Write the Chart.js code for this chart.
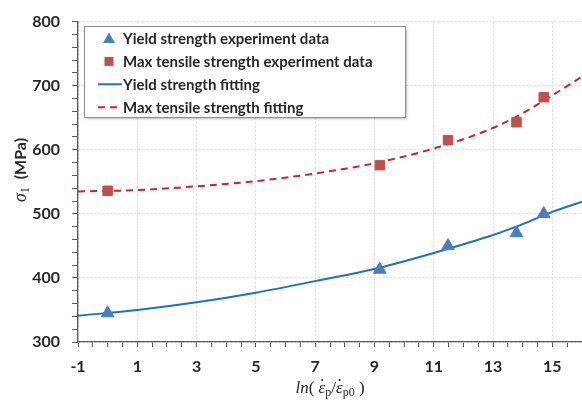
<!DOCTYPE html>
<html>
<head>
<meta charset="utf-8">
<script src="https://cdn.jsdelivr.net/npm/chart.js@4.4.1/dist/chart.umd.min.js"></script>
<style>
  html, body { margin: 0; padding: 0; background: #fff; overflow: hidden; }
  #wrap { position: absolute; left: 0; top: 0; width: 592px; height: 400px; }
</style>
</head>
<body>
<div id="wrap"><canvas id="chart"></canvas></div>
<script>
/* ── Data ─────────────────────────────────────────── */
const expX = [0, 9.18, 11.48, 13.79, 14.71];
const yieldExp = [345, 413, 450, 470, 500];
const maxExp = [536, 576, 615, 643, 682];

const fitX = [-1, 1, 3, 5, 7, 9, 11, 13, 14, 15, 16];
const yieldFit = [341, 350, 362, 377, 395, 414, 439, 467, 484, 503, 519];
const maxFit = [535, 537, 543, 551, 563, 579, 602, 634, 657, 685, 714];

const LABELS = [
  'Yield strength experiment data',
  'Max tensile strength experiment data',
  'Yield strength fitting',
  'Max tensile strength fitting',
];

const BLUE_PT = '#4a7ebb';
const RED_PT = '#c0504d';
const BLUE_LN = '#1f70c1';
const RED_LN = '#c9252b';
const TXT = '#262626';
const TICK_FONT = { family: 'Lato', size: 16, weight: 'bold' };

const pts = (xs, ys) => xs.map((x, i) => ({ x, y: ys[i] }));

/* ── Legend box drawn inside the plot ── */
const boxLegend = {
  id: 'boxLegend',
  afterDraw(chart) {
    const ctx = chart.ctx;
    const x0 = 84, y0 = 26, w = 321, h = 91;
    ctx.save();
    ctx.shadowColor = 'rgba(0,0,0,0.35)';
    ctx.shadowBlur = 3;
    ctx.shadowOffsetX = 1.5;
    ctx.shadowOffsetY = 1.5;
    ctx.fillStyle = '#fff';
    ctx.fillRect(x0, y0, w, h);
    ctx.restore();
    ctx.save();
    ctx.strokeStyle = '#8c8c8c';
    ctx.lineWidth = 1;
    ctx.strokeRect(x0 + 0.5, y0 + 0.5, w, h);

    ctx.font = 'bold 15px Lato';
    ctx.fillStyle = TXT;
    ctx.textBaseline = 'middle';
    LABELS.forEach((lab, i) => {
      const cy = 38.5 + i * 22.9;
      const sx = 109;
      if (i === 0) {
        ctx.fillStyle = BLUE_PT;
        ctx.beginPath();
        ctx.moveTo(sx, cy - 6);
        ctx.lineTo(sx + 6, cy + 4.5);
        ctx.lineTo(sx - 6, cy + 4.5);
        ctx.closePath();
        ctx.fill();
      } else if (i === 1) {
        ctx.fillStyle = RED_PT;
        ctx.fillRect(sx - 4.5, cy - 4.5, 9, 9);
      } else {
        ctx.strokeStyle = i === 2 ? BLUE_LN : RED_LN;
        ctx.lineWidth = 2;
        ctx.setLineDash(i === 3 ? [7, 5] : []);
        ctx.beginPath();
        ctx.moveTo(98, cy);
        ctx.lineTo(122, cy);
        ctx.stroke();
        ctx.setLineDash([]);
      }
      ctx.fillStyle = TXT;
      ctx.fillText(lab, 123, cy + 1);
    });
    ctx.restore();
  }
};

/* ── Axis titles with math-style glyphs ── */
function drawRuns(ctx, runs, x, y) {
  runs.forEach(r => {
    ctx.font = r.f;
    ctx.fillText(r.t, x, y + (r.dy || 0));
    const w = ctx.measureText(r.t).width;
    if (r.dot) {
      ctx.beginPath();
      ctx.arc(x + w * 0.55, y - 13, 1.1, 0, Math.PI * 2);
      ctx.fill();
    }
    x += w;
  });
}

function runsWidth(ctx, runs) {
  return runs.reduce((s, r) => { ctx.font = r.f; return s + ctx.measureText(r.t).width; }, 0);
}

const axisTitles = {
  id: 'axisTitles',
  afterDraw(chart) {
    const ctx = chart.ctx;
    const ca = chart.chartArea;
    ctx.save();
    ctx.fillStyle = TXT;
    ctx.textBaseline = 'alphabetic';

    const it = 'italic 17px "Liberation Serif"';
    const up = '17px "Liberation Serif"';
    const sub = '12px "Liberation Serif"';
    const xRuns = [
      { t: 'ln', f: it },
      { t: '( ', f: up },
      { t: 'ε', f: it, dot: true },
      { t: 'p', f: sub, dy: 3 },
      { t: '/', f: up },
      { t: 'ε', f: it, dot: true },
      { t: 'p0', f: sub, dy: 3 },
      { t: ' )', f: up },
    ];
    const xw = runsWidth(ctx, xRuns);
    drawRuns(ctx, xRuns, (ca.left + ca.right) / 2 - xw / 2, 393);

    const yRuns = [
      { t: 'σ', f: 'italic 18px "Liberation Serif"' },
      { t: '1', f: sub, dy: 3 },
      { t: '  (MPa)', f: 'bold 16px Lato' },
    ];
    const yw = runsWidth(ctx, yRuns);
    ctx.translate(26, 170);
    ctx.rotate(-Math.PI / 2);
    drawRuns(ctx, yRuns, -yw / 2, 0);
    ctx.restore();
  }
};

/* ── Chart ── */
const isOdd = v => { const r = Math.round(v * 2) / 2; return Number.isInteger(r) && Math.abs(r) % 2 === 1; };
const isHundred = v => Math.round(v) % 100 === 0;

new Chart(document.getElementById('chart'), {
  type: 'scatter',
  data: {
    datasets: [
      {
        label: LABELS[0],
        data: pts(expX, yieldExp),
        pointStyle: 'triangle',
        pointRadius: 7.3,
        backgroundColor: BLUE_PT,
        borderColor: BLUE_PT,
        borderWidth: 1,
      },
      {
        label: LABELS[1],
        data: pts(expX, maxExp),
        pointStyle: 'rect',
        pointRadius: 6.7,
        backgroundColor: RED_PT,
        borderColor: RED_PT,
        borderWidth: 1,
      },
      {
        label: LABELS[2],
        data: pts(fitX, yieldFit),
        showLine: true,
        pointRadius: 0,
        borderColor: BLUE_LN,
        borderWidth: 2,
        cubicInterpolationMode: 'monotone',
      },
      {
        label: LABELS[3],
        data: pts(fitX, maxFit),
        showLine: true,
        pointRadius: 0,
        borderColor: RED_LN,
        borderWidth: 2,
        borderDash: [7, 5],
        cubicInterpolationMode: 'monotone',
      },
    ]
  },
  options: {
    responsive: true, maintainAspectRatio: false,
    animation: false,
    layout: { padding: { top: 16, right: 0, bottom: 0, left: 0 } },
    plugins: { legend: { display: false }, tooltip: { enabled: false } },
    scales: {
      x: {
        type: 'linear', min: -1, max: 16,
        afterFit: s => { s.height = 58; },
        ticks: {
          stepSize: 0.5, autoSkip: false, maxRotation: 0,
          padding: 10, color: TXT, font: TICK_FONT,
          callback: v => isOdd(v) ? String(Math.round(v)) : '',
        },
        grid: {
          color: c => (c.tick && isOdd(c.tick.value)) ? '#d9d9d9' : 'transparent',
          tickColor: '#595959', tickLength: 5, lineWidth: 1,
        },
        border: { color: '#595959', width: 1.3, dash: [2, 2] },
      },
      y: {
        min: 300, max: 800,
        afterFit: s => { s.width = 78; },
        ticks: {
          stepSize: 20, autoSkip: false,
          padding: 12, color: TXT, font: TICK_FONT,
          callback: v => isHundred(v) ? String(v) : '',
        },
        grid: {
          color: c => (c.tick && isHundred(c.tick.value)) ? '#d9d9d9' : 'transparent',
          tickColor: '#595959', tickLength: 6, lineWidth: 1,
        },
        border: { color: '#595959', width: 1.3, dash: [2, 2] },
      }
    }
  },
  plugins: [boxLegend, axisTitles]
});
</script>
</body>
</html>
